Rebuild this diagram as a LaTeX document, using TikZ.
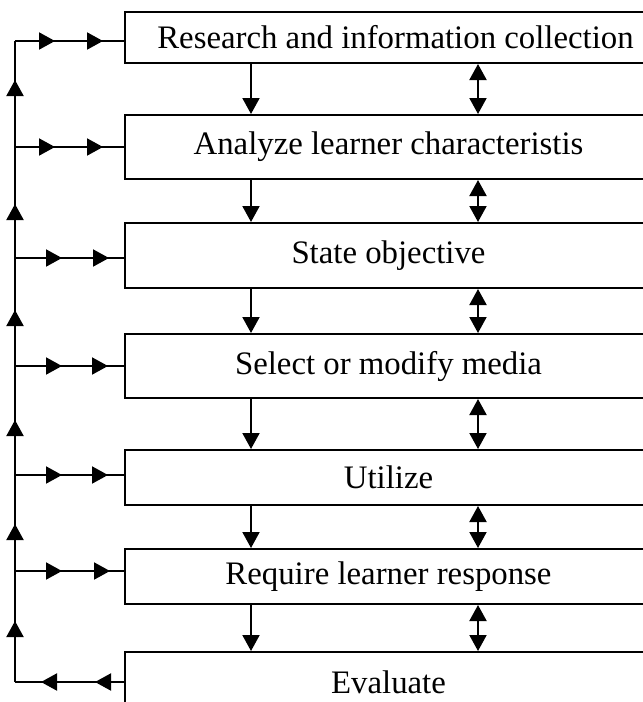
\documentclass[tikz,border=0pt]{standalone}
\usepackage{fontspec}
\setmainfont{Liberation Serif}
\usetikzlibrary{arrows.meta,decorations.markings}
\tikzset{
  T/.tip={Triangle[length=16pt,width=17pt]},
  conn/.style={line width=2pt},
  stepbox/.style={draw, line width=2pt, minimum width=527pt, inner sep=0pt,
    font=\fontsize{32.8}{38}\selectfont},
  twomarks/.style 2 args={postaction={decorate}, decoration={markings,
    mark=at position #1 with {\arrow{T}}, mark=at position #2 with {\arrow{T}}}},
  marksup/.style={postaction={decorate}, decoration={markings,
    mark=at position 61pt with {\arrow{T}},
    mark=at position 158pt with {\arrow{T}},
    mark=at position 262pt with {\arrow{T}},
    mark=at position 372pt with {\arrow{T}},
    mark=at position 478pt with {\arrow{T}},
    mark=at position 602pt with {\arrow{T}}}}
}
\begin{document}
\begin{tikzpicture}[x=1pt,y=-1pt]
\useasboundingbox (0,0) rectangle (643,702);
\clip (0,0) rectangle (643,702);
\node[stepbox, minimum height=51pt] (b1) at (388.5,37.5) {\hspace*{14pt}Research and information collection};
\node[stepbox, minimum height=64pt] (b2) at (388.5,147) {Analyze learner characteristis};
\node[stepbox, minimum height=65pt] (b3) at (388.5,255.5) {State objective};
\node[stepbox, minimum height=64pt] (b4) at (388.5,366) {Select or modify media};
\node[stepbox, minimum height=55pt] (b5) at (388.5,477.5) {Utilize};
\node[stepbox, minimum height=55pt] (b6) at (388.5,576.5) {Require learner response};
\node[stepbox, minimum height=60pt] (b7) at (388.5,682) {Evaluate};
\coordinate (dcol) at (251,0);
\coordinate (ucol) at (478,0);
\coordinate (s1) at (15,41);
\coordinate (s2) at (15,147);
\coordinate (s3) at (15,258);
\coordinate (s4) at (15,366);
\coordinate (s5) at (15,475);
\coordinate (s6) at (15,571);
\coordinate (s7) at (15,682);
% spine
\draw[conn, marksup] (s7) -- (s1);
% feed lines
\draw[conn, twomarks={40pt}{88pt}] (s1) -- (s1 -| b1.west);
\draw[conn, twomarks={40pt}{88pt}] (s2) -- (s2 -| b2.west);
\draw[conn, twomarks={47pt}{94pt}] (s3) -- (s3 -| b3.west);
\draw[conn, twomarks={47pt}{93pt}] (s4) -- (s4 -| b4.west);
\draw[conn, twomarks={47pt}{93pt}] (s5) -- (s5 -| b5.west);
\draw[conn, twomarks={47pt}{95pt}] (s6) -- (s6 -| b6.west);
\draw[conn, twomarks={29pt}{83pt}] (s7 -| b7.west) -- (s7);
% down arrows and two-way arrows
\foreach \a/\b in {b1/b2,b2/b3,b3/b4,b4/b5,b5/b6,b6/b7}{
  \draw[conn, -{T}] (\a.south -| dcol) -- (\b.north -| dcol);
  \draw[conn, {T}-{T}] (\a.south -| ucol) -- (\b.north -| ucol);
}
\end{tikzpicture}
\end{document}
